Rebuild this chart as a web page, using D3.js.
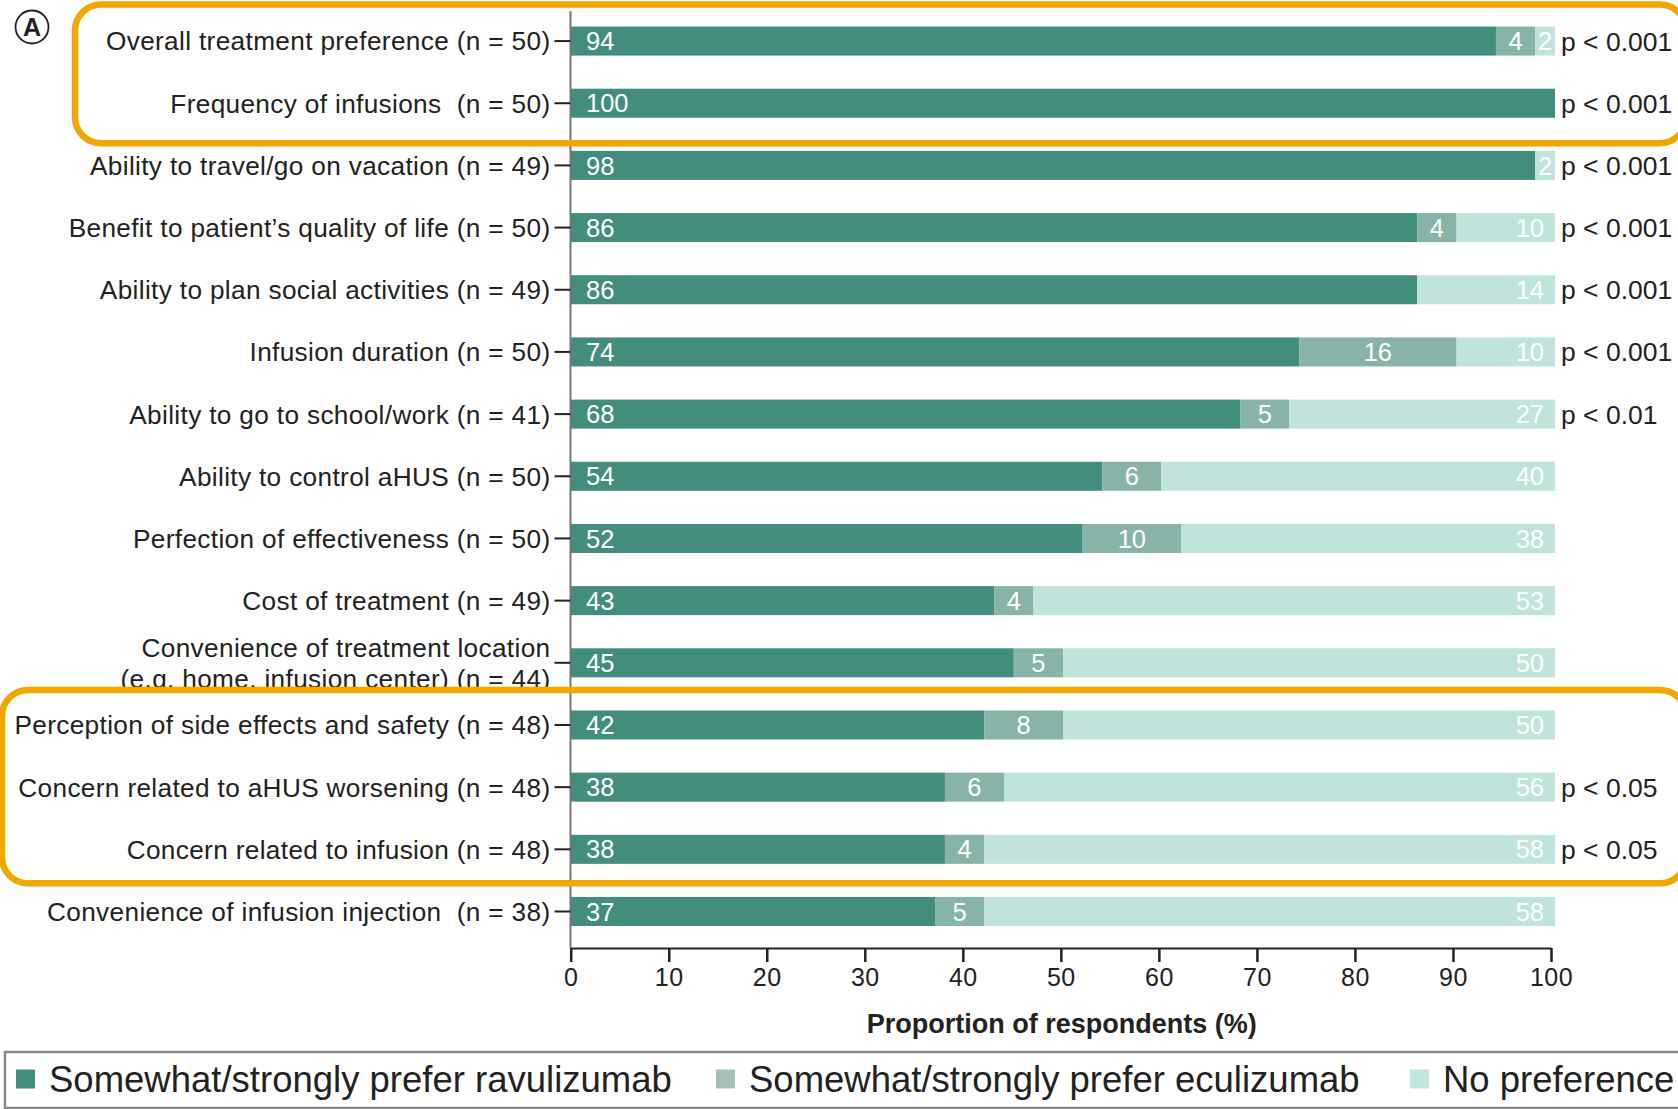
<!DOCTYPE html>
<html>
<head>
<meta charset="utf-8">
<script src="https://cdn.jsdelivr.net/npm/d3@7"></script>
<style>
  html, body { margin: 0; padding: 0; background: #fff; }
  svg { display: block; font-family: "Liberation Sans", Arial, Helvetica, sans-serif; }
  text { white-space: pre; }
</style>
</head>
<body>
<svg id="chart" width="1678" height="1109"></svg>
<script>
// Attributes rated by respondents (top to bottom)
const categories = [
  "Overall treatment preference (n = 50)",
  "Frequency of infusions  (n = 50)",
  "Ability to travel/go on vacation (n = 49)",
  "Benefit to patient\u2019s quality of life (n = 50)",
  "Ability to plan social activities (n = 49)",
  "Infusion duration (n = 50)",
  "Ability to go to school/work (n = 41)",
  "Ability to control aHUS (n = 50)",
  "Perfection of effectiveness (n = 50)",
  "Cost of treatment (n = 49)",
  "Convenience of treatment location\n(e.g. home, infusion center) (n = 44)",
  "Perception of side effects and safety (n = 48)",
  "Concern related to aHUS worsening (n = 48)",
  "Concern related to infusion (n = 48)",
  "Convenience of infusion injection  (n = 38)"
];

// Percentages per preference group
const preferRavulizumab = [94, 100, 98, 86, 86, 74, 68, 54, 52, 43, 45, 42, 38, 38, 37];
const preferEculizumab  = [4, 0, 0, 4, 0, 16, 5, 6, 10, 4, 5, 8, 6, 4, 5];
const noPreference      = [2, 0, 2, 10, 14, 10, 27, 40, 38, 53, 50, 50, 56, 58, 58];

// Significance annotations (empty = not significant)
const pValues = ["p < 0.001", "p < 0.001", "p < 0.001", "p < 0.001", "p < 0.001", "p < 0.001",
                 "p < 0.01", "", "", "", "", "", "p < 0.05", "p < 0.05", ""];

const seriesNames = ["Somewhat/strongly prefer ravulizumab", "Somewhat/strongly prefer eculizumab", "No preference"];
const xTicks = [0, 10, 20, 30, 40, 50, 60, 70, 80, 90, 100];

// Highlighted groups of rows [first, last]
const highlightGroups = [[0, 1], [11, 13]];

const colors = ["#428d7e", "#88b3a8", "#c0e4dc"];
const legendColors = ["#428d7e", "#a6bfb7", "#c2e6de"];
const orange = "#f0a800";

const svg = d3.select("#chart");

const x = d3.scaleLinear().domain([0, 100]).range([571, 1555]);
const y = d3.scaleBand().domain(d3.range(categories.length))
  .range([10, 10 + 62.17 * categories.length]).paddingInner(0.533).paddingOuter(0.266);

const keys = ["rav", "ecu", "none"];
const rows = categories.map((c, i) => ({
  i, label: c, rav: preferRavulizumab[i], ecu: preferEculizumab[i], none: noPreference[i], p: pValues[i]
}));
const stacked = d3.stack().keys(keys)(rows);

// Panel marker
const marker = svg.append("g").attr("transform", "translate(32,27)");
marker.append("circle").attr("r", 16.5).attr("fill", "none").attr("stroke", "#222").attr("stroke-width", 1.8);
marker.append("text").attr("text-anchor", "middle").attr("dy", "0.36em")
  .attr("font-size", 25).attr("font-weight", "bold").attr("fill", "#222").text("A");

// Bars
stacked.forEach((layer, k) => {
  svg.append("g").selectAll("rect")
    .data(layer.filter(d => d[1] - d[0] > 0))
    .join("rect")
    .attr("x", d => x(d[0]))
    .attr("y", d => y(d.data.i))
    .attr("width", d => x(d[1]) - x(d[0]))
    .attr("height", y.bandwidth())
    .attr("fill", colors[k]);
});

// Segment value labels
stacked.forEach((layer, k) => {
  svg.append("g").selectAll("text")
    .data(layer.filter(d => d[1] - d[0] > 0))
    .join("text")
    .attr("x", d => {
      const w = x(d[1]) - x(d[0]);
      if (k === 0) return x(d[0]) + 15;
      if (k === 2 && w > 45) return x(d[1]) - 11;
      return (x(d[0]) + x(d[1])) / 2;
    })
    .attr("text-anchor", d => {
      const w = x(d[1]) - x(d[0]);
      if (k === 0) return "start";
      if (k === 2 && w > 45) return "end";
      return "middle";
    })
    .attr("y", d => y(d.data.i) + y.bandwidth() / 2)
    .attr("dy", "0.36em")
    .attr("font-size", 25.5)
    .attr("fill", "#fff")
    .text(d => d[1] - d[0]);
});

// Y axis with category labels
const yAxis = svg.append("g").attr("transform", `translate(${x(0) - 0.5},0)`);
yAxis.append("line").attr("x1", 0).attr("x2", 0).attr("y1", 11).attr("y2", 948)
  .attr("stroke", "#777").attr("stroke-width", 2);
const yTicks = yAxis.selectAll("g.tick").data(rows).join("g")
  .attr("transform", d => `translate(0,${y(d.i) + y.bandwidth() / 2})`);
yTicks.append("line").attr("x1", -16).attr("x2", 0).attr("stroke", "#222").attr("stroke-width", 2);
yTicks.append("text")
  .attr("text-anchor", "end")
  .attr("font-size", 26.2)
  .attr("letter-spacing", 0.35)
  .attr("fill", "#222")
  .each(function(d) {
    const lines = d.label.split("\n");
    const t = d3.select(this);
    lines.forEach((ln, j) => {
      t.append("tspan").attr("x", -20)
        .attr("y", (j - (lines.length - 1) / 2) * 31)
        .attr("dy", "0.36em").text(ln);
    });
  });

// X axis
const xAxis = svg.append("g").attr("transform", "translate(0,948)")
  .call(d3.axisBottom(d3.scaleLinear().domain([0, 100]).range([570.7, 1551])).tickValues(xTicks).tickSize(14).tickPadding(6).tickSizeOuter(0));
xAxis.select(".domain").attr("stroke", "#222").attr("stroke-width", 2);
xAxis.selectAll(".tick line").attr("stroke", "#222").attr("stroke-width", 2.5);
xAxis.selectAll(".tick text").attr("font-size", 25).attr("fill", "#222")
  .attr("font-family", "'Liberation Sans Narrow', 'Liberation Sans', Arial, sans-serif")
  .attr("letter-spacing", 0.5);

svg.append("text").attr("x", (570.7 + 1551) / 2 + 1).attr("y", 1033)
  .attr("text-anchor", "middle").attr("font-size", 27).attr("font-weight", "bold").attr("fill", "#222")
  .text("Proportion of respondents (%)");

// p-value annotations
svg.append("g").selectAll("text").data(rows.filter(d => d.p)).join("text")
  .attr("x", x(100) + 6)
  .attr("y", d => y(d.i) + y.bandwidth() / 2)
  .attr("dy", "0.36em")
  .attr("font-size", 26.5)
  .attr("fill", "#222")
  .text(d => d.p);

// Highlight frames: [left, right, space above first bar, space below last bar]
const frameBounds = [[75, 1686, 22, 25.5], [2, 1686, 20.5, 19.5]];
highlightGroups.forEach((g, k) => {
  const [left, right, above, below] = frameBounds[k];
  const top = Math.max(y(g[0]) - above, 2.5);
  const bottom = y(g[1]) + y.bandwidth() + below;
  svg.append("rect")
    .attr("x", left).attr("y", top)
    .attr("width", right - left)
    .attr("height", bottom - top)
    .attr("rx", 26).attr("ry", 26)
    .attr("fill", "none").attr("stroke", orange).attr("stroke-width", 6.5);
});

// Legend
svg.append("rect").attr("x", 5).attr("y", 1052).attr("width", 1700).attr("height", 56)
  .attr("fill", "none").attr("stroke", "#888").attr("stroke-width", 2.5);
const legendX = [16, 716, 1410];
const legend = svg.append("g").selectAll("g").data(seriesNames).join("g")
  .attr("transform", (d, i) => `translate(${legendX[i]},1079)`);
legend.append("rect").attr("x", 0).attr("y", -9.5).attr("width", 19).attr("height", 19)
  .attr("fill", (d, i) => legendColors[i]);
legend.append("text").attr("x", 33).attr("dy", "0.36em")
  .attr("font-size", 36.5).attr("fill", "#222").text(d => d);
</script>
</body>
</html>
